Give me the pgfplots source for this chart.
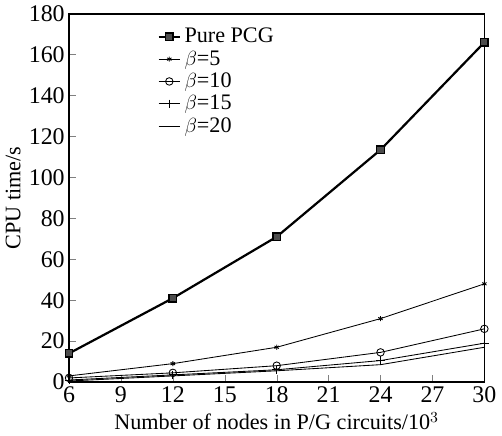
\documentclass[border=0pt]{standalone}
\usepackage{pgfplots}
\pgfplotsset{compat=1.18}
\usepackage{fontspec}
\setmainfont{Liberation Serif}
\begin{document}
\begin{tikzpicture}
\begin{axis}[
  scale only axis,
  width=243.6pt, height=216pt,
  xmin=6, xmax=30, ymin=0, ymax=180,
  xtick={6,9,...,30}, ytick={0,20,...,180},
  tick align=inside,
  xtick pos=bottom, ytick pos=left,
  major tick length=4pt,
  axis line style={line width=1pt},
  /pgf/number format/assume math mode=true,
  tick label style={font=\fontsize{14}{15}\selectfont},
  label style={font=\fontsize{13}{14}\selectfont},
  xticklabel style={yshift=1pt},
  yticklabel style={xshift=1pt},
  xlabel={Number of nodes in P/G circuits/10$^3$},
  ylabel={CPU time/s},
  xlabel style={yshift=1pt},
  ylabel style={yshift=-2pt},
  legend style={draw=none, fill=none, at={(0.2,0.98)}, anchor=north west,
    font=\fontsize{13}{14}\selectfont, row sep=-1pt,
    /tikz/every even column/.append style={column sep=2pt}},
  legend cell align=left,
  legend image code/.code={%
    \draw[mark repeat=2,mark phase=2,#1] plot coordinates {(0cm,0cm) (0.22cm,0cm) (0.44cm,0cm)};},
]
\addplot[black, line width=1.3pt, mark=square*, mark size=2.2pt, mark options={fill=black!70, line width=0.8pt}]
  coordinates {(6,14) (12,41) (18,71) (24,113.5) (30,166)};
\addlegendentry{Pure PCG}
\addplot[black, line width=0.5pt, mark=asterisk, mark size=1.5pt]
  coordinates {(6,3) (12,9) (18,17) (24,31) (30,48)};
\addlegendentry{$\beta$=5}
\addplot[black, line width=0.5pt, mark=o, mark size=2.2pt]
  coordinates {(6,2) (12,4.5) (18,8) (24,14.5) (30,26)};
\addlegendentry{$\beta$=10}
\addplot[black, line width=0.5pt, mark=+, mark size=2.5pt]
  coordinates {(6,1) (12,3.5) (18,6) (24,10.5) (30,19)};
\addlegendentry{$\beta$=15}
\addplot[black, line width=0.5pt]
  coordinates {(6,0.5) (12,3) (18,5.5) (24,8.5) (30,17)};
\addlegendentry{$\beta$=20}
\end{axis}
\end{tikzpicture}
\end{document}
